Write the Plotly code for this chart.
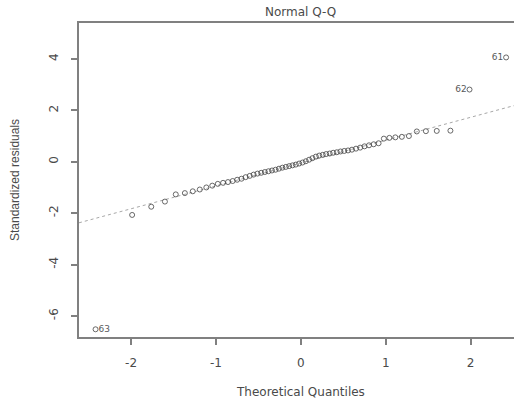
import plotly.graph_objects as go

# Theoretical quantiles (x) and sorted standardized residuals (y)
theoretical = [-2.418, -1.987, -1.762, -1.601, -1.473, -1.366, -1.273, -1.190,
               -1.113, -1.043, -0.978, -0.916, -0.858, -0.803, -0.750, -0.699,
               -0.650, -0.602, -0.556, -0.511, -0.467, -0.424, -0.381, -0.340,
               -0.298, -0.258, -0.217, -0.177, -0.137, -0.098, -0.059, -0.020,
               0.020, 0.059, 0.098, 0.137, 0.177, 0.217, 0.258, 0.298,
               0.340, 0.381, 0.424, 0.467, 0.511, 0.556, 0.602, 0.650,
               0.699, 0.750, 0.803, 0.858, 0.916, 0.978, 1.043, 1.113,
               1.190, 1.273, 1.366, 1.473, 1.601, 1.762, 1.987, 2.418]
residuals = [-6.52, -2.07, -1.75, -1.55, -1.27, -1.22, -1.15, -1.08,
             -1.00, -0.93, -0.86, -0.82, -0.79, -0.75, -0.70, -0.66,
             -0.60, -0.55, -0.50, -0.46, -0.43, -0.40, -0.37, -0.34,
             -0.31, -0.27, -0.23, -0.20, -0.17, -0.14, -0.11, -0.07,
             -0.03, 0.02, 0.08, 0.14, 0.20, 0.24, 0.27, 0.30,
             0.32, 0.35, 0.37, 0.40, 0.42, 0.44, 0.47, 0.51,
             0.55, 0.60, 0.64, 0.68, 0.72, 0.90, 0.93, 0.95,
             0.97, 1.00, 1.18, 1.19, 1.20, 1.21, 2.81, 4.06]

# labelled outliers: index into the sorted arrays, label, side
outlier_idx = [63, 62, 0]
outlier_labels = ["61", "62", "63"]
outlier_pos = ["middle left", "middle left", "middle right"]

# reference line (qqline) parameters
line_intercept = -0.05
line_slope = 0.89

x_ticks = [-2, -1, 0, 1, 2]
y_ticks = [-6, -4, -2, 0, 2, 4]
x_range = [-2.613, 2.511]
y_range = [-6.82, 5.40]

title_text = "Normal Q-Q"
x_title = "Theoretical Quantiles"
y_title = "Standardized residuals"

FONT = "DejaVu Sans, Liberation Sans, Arial, sans-serif"
FONT2 = "Liberation Sans, Arial, sans-serif"
TXT = "#4a4a4a"
AX = "#808080"

fig = go.Figure()

fig.add_trace(go.Scatter(
    x=x_range,
    y=[line_intercept + line_slope * v for v in x_range],
    mode="lines",
    line=dict(color="#a8a8a8", width=1, dash="dot"),
    hoverinfo="skip", showlegend=False,
))

fig.add_trace(go.Scatter(
    x=theoretical, y=residuals,
    mode="markers",
    marker=dict(symbol="circle-open", size=5, color="#444444",
                line=dict(width=0.8, color="#444444")),
    showlegend=False,
))

fig.add_trace(go.Scatter(
    x=[theoretical[i] for i in outlier_idx],
    y=[residuals[i] for i in outlier_idx],
    mode="text",
    text=[" " + t + " " for t in outlier_labels],
    textposition=outlier_pos,
    textfont=dict(family=FONT, size=9, color="#5a5a5a"),
    showlegend=False, hoverinfo="skip",
))

fig.update_layout(
    width=514, height=402,
    margin=dict(l=79, r=0, t=23, b=65),
    paper_bgcolor="white", plot_bgcolor="white",
    font=dict(family=FONT, size=11, color=TXT),
    xaxis=dict(
        range=x_range, tickvals=x_ticks, ticktext=[str(t) for t in x_ticks],
        showgrid=False, zeroline=False,
        showline=True, linecolor=AX, linewidth=1.5, mirror=True,
        ticks="outside", ticklen=6, tickcolor=AX, tickwidth=1.5,
        ticklabelstandoff=8,
        tickfont=dict(family=FONT, size=12, color=TXT),
    ),
    yaxis=dict(
        range=y_range, tickvals=y_ticks, ticktext=[str(t) for t in y_ticks],
        showgrid=False, zeroline=False,
        showline=True, linecolor=AX, linewidth=1.5,
        ticks="outside", ticklen=6, tickcolor=AX, tickwidth=1.5,
        tickangle=-90, ticklabelstandoff=8,
        tickfont=dict(family=FONT, size=12, color=TXT),
    ),
    annotations=[
        dict(text=title_text, xref="x", yref="paper", x=0, y=1,
             yanchor="bottom", yshift=2, showarrow=False,
             font=dict(family=FONT, size=12, color=TXT)),
        dict(text=x_title, xref="x", yref="paper", x=0, y=0,
             yanchor="middle", yshift=-55, showarrow=False,
             font=dict(family=FONT, size=12, color=TXT)),
        dict(text=y_title, xref="paper", yref="paper", x=0, y=0.5,
             xanchor="center", xshift=-64, textangle=-90, showarrow=False,
             font=dict(family=FONT2, size=12, color=TXT)),
    ],
)

fig.write_html("out.html")
